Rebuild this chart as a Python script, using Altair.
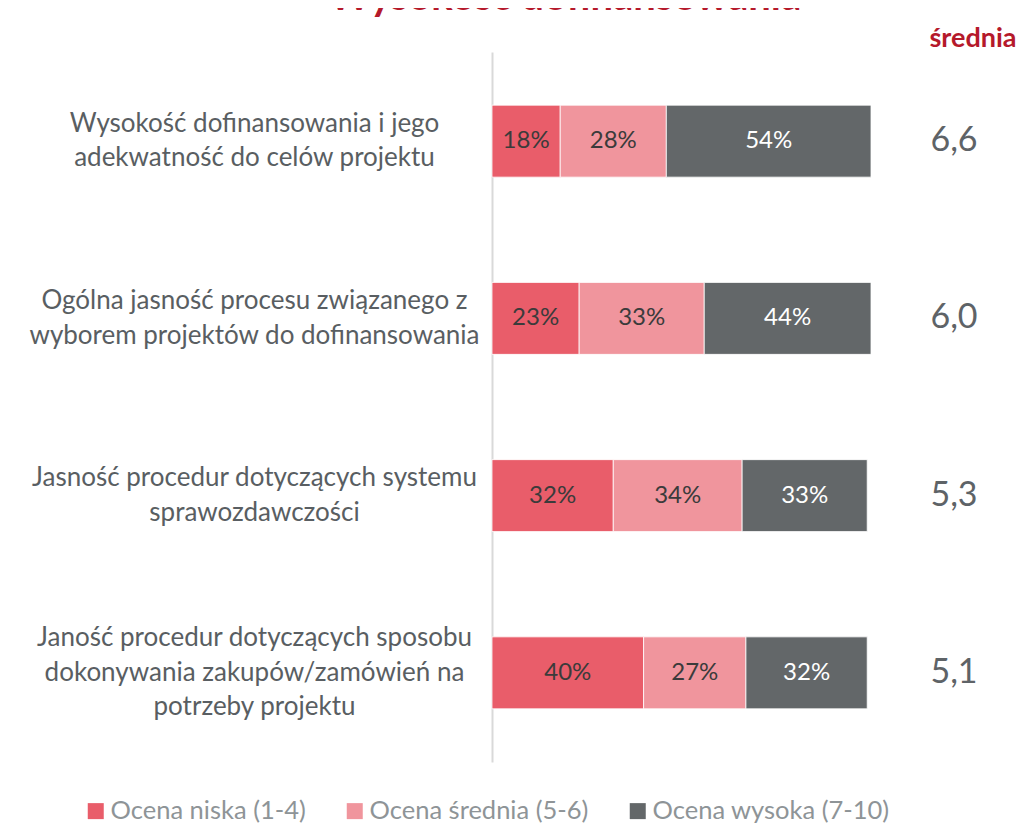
import altair as alt
import pandas as pd

categories = [
    "Wysokość dofinansowania i jego|adekwatność do celów projektu",
    "Ogólna jasność procesu związanego z|wyborem projektów do dofinansowania",
    "Jasność procedur dotyczących systemu|sprawozdawczości",
    "Janość procedur dotyczących sposobu|dokonywania zakupów/zamówień na|potrzeby projektu",
]
series = ["Ocena niska (1-4)", "Ocena średnia (5-6)", "Ocena wysoka (7-10)"]
low = [18, 23, 32, 40]
mid = [28, 33, 34, 27]
high = [54, 44, 33, 32]
means = ["6,6", "6,0", "5,3", "5,1"]
colors = ["#E95D6A", "#F0959D", "#636769"]

rows = []
for i, c in enumerate(categories):
    for j, (s, vals) in enumerate(zip(series, [low, mid, high])):
        rows.append({"cat": c, "series": s, "value": vals[i], "order": j,
                     "label": f"{vals[i]}%"})
df = pd.DataFrame(rows)
mdf = pd.DataFrame({"cat": categories, "mean": means})

FONT = "Lato"
LH = 34.5

y_enc = alt.Y(
    "cat:N",
    sort=categories,
    scale=alt.Scale(paddingInner=0.594, paddingOuter=0.3),
    axis=alt.Axis(
        title=None,
        ticks=False,
        labelExpr="split(datum.label, '|')",
        labelAlign="center",
        labelBaseline="middle",
        labelPadding=238,
        labelFontSize=26,
        labelFont=FONT,
        labelColor="#595E62",
        labelLineHeight=LH,
        labelLimit=600,
        labelOffset={
            "condition": {
                "test": "length(split(datum.label, '|')) == 3",
                "value": -LH,
            },
            "value": -LH / 2,
        },
        domainColor="#D9D9D9",
        domainWidth=2,
        grid=False,
    ),
)

base = alt.Chart(df)

bars = base.mark_bar(stroke="white", strokeWidth=0.8).encode(
    x=alt.X("value:Q", stack="zero", scale=alt.Scale(domain=[0, 100]), axis=None),
    y=y_enc,
    color=alt.Color(
        "series:N",
        scale=alt.Scale(domain=series, range=colors),
        legend=alt.Legend(
            title=None,
            orient="none",
            direction="horizontal",
            legendX=-409,
            legendY=746,
            symbolType="square",
            symbolSize=256,
            symbolStrokeWidth=0,
            labelFontSize=25.5,
            labelFont=FONT,
            labelColor="#8E9497",
            labelOffset=2,
            columnPadding=36,
            labelLimit=400,
        ),
    ),
    order=alt.Order("order:Q"),
)

texts = base.transform_stack(
    stack="value", groupby=["cat"], as_=["v0", "v1"],
    sort=[alt.SortField("order", order="ascending")],
).transform_calculate(mid="(datum.v0 + datum.v1) / 2").mark_text(
    fontSize=24, font=FONT, baseline="middle", align="center"
).encode(
    x=alt.X("mid:Q"),
    y=alt.Y("cat:N", sort=categories),
    text="label:N",
    color=alt.condition(
        alt.datum.series == "Ocena wysoka (7-10)",
        alt.value("white"),
        alt.value("#3B3B3B"),
    ),
)

mean_text = alt.Chart(mdf).mark_text(
    fontSize=34, font=FONT, color="#5E6367", align="center", baseline="middle"
).encode(
    x=alt.value(462),
    y=alt.Y("cat:N", sort=categories),
    text="mean:N",
)

header = alt.Chart(pd.DataFrame({"t": ["średnia"]})).mark_text(
    fontSize=27, font=FONT, fontWeight="bold", color="#B5192B",
    align="center", baseline="alphabetic",
).encode(x=alt.value(481), y=alt.value(-5), text="t:N")

title = alt.Chart(pd.DataFrame({"t": ["Wysokość dofinansowania"]})).mark_text(
    fontSize=40, font=FONT, fontWeight="bold", color="#B5192B",
    align="center", baseline="alphabetic",
).encode(x=alt.value(73), y=alt.value(-42), text="t:N")

chart = alt.layer(bars, texts, mean_text, header, title).properties(
    width=379,
    height=710,
    padding={"left": 484, "top": 44, "right": 148, "bottom": 62},
    autosize=alt.AutoSizeParams(type="none"),
    background="white",
).configure_view(stroke=None)

chart.save("out.html", embed_options={"renderer": "svg", "actions": False})
